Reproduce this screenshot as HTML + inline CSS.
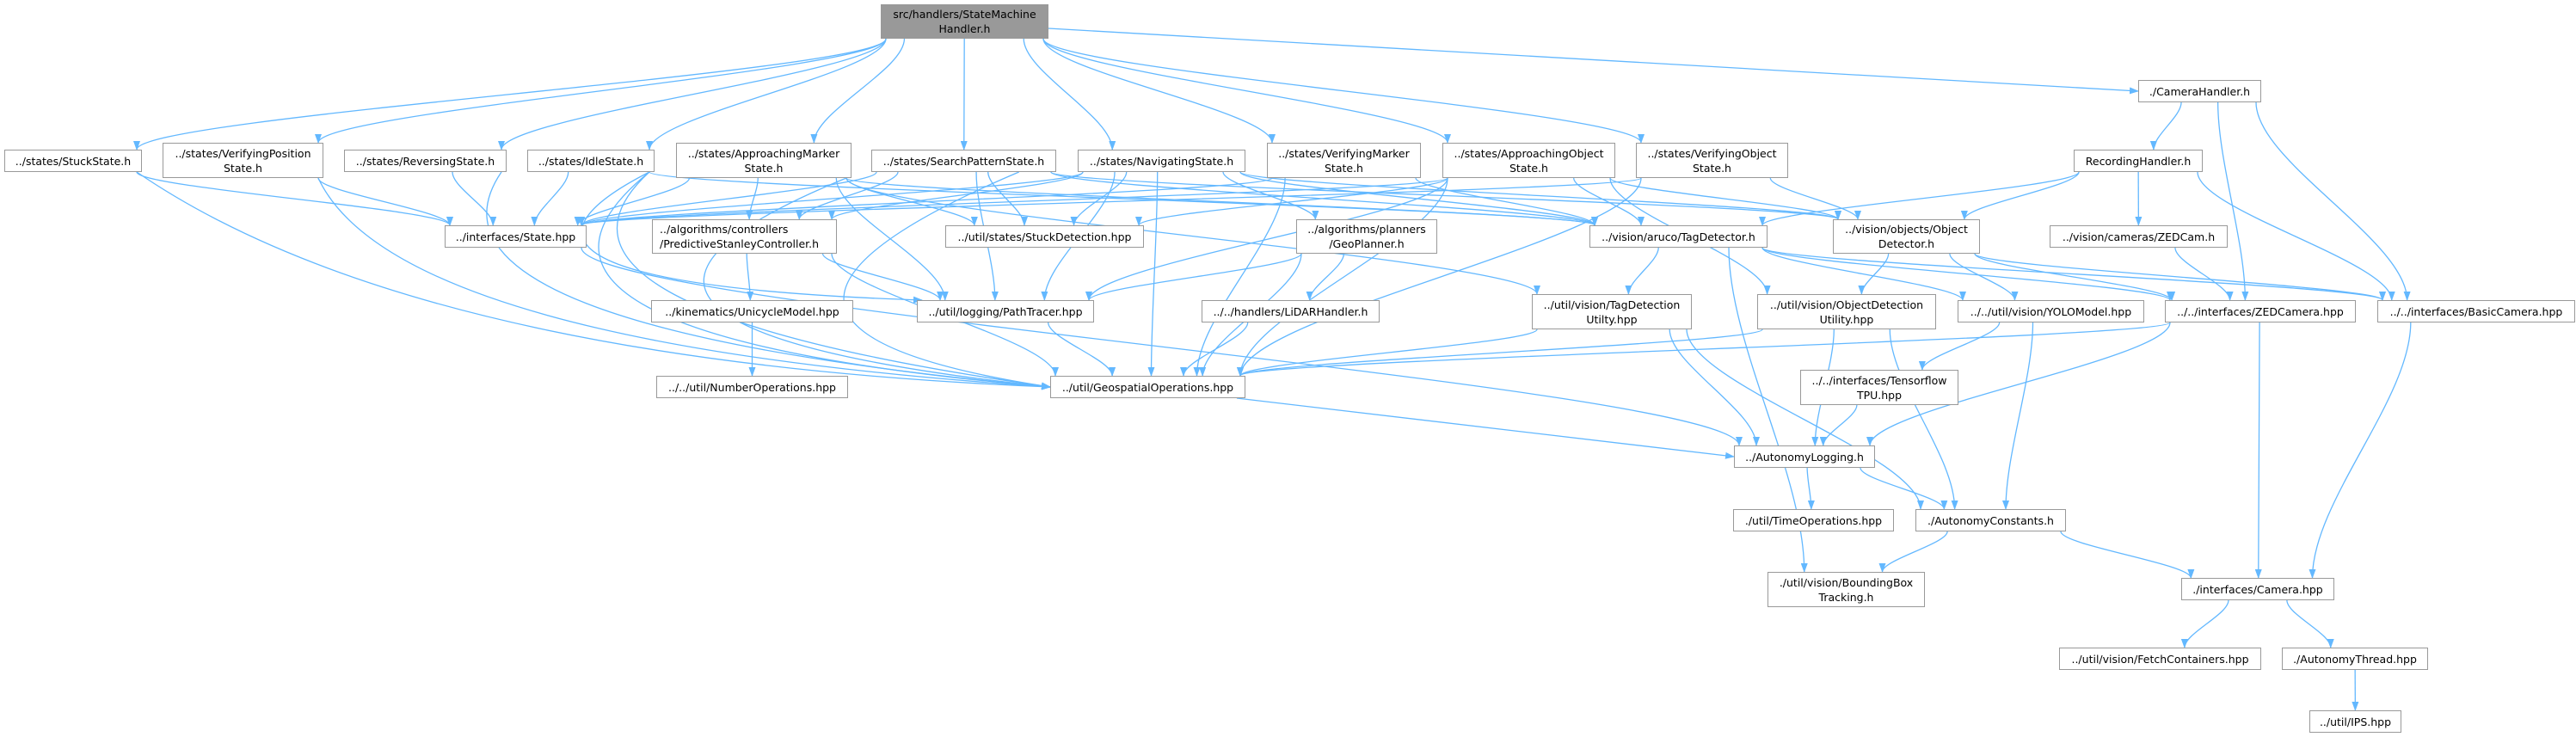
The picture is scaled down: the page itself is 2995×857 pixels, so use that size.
<!DOCTYPE html>
<html><head><meta charset="utf-8"><style>
html,body{margin:0;padding:0;background:#fff;}
body{width:2995px;height:857px;position:relative;overflow:hidden;font-family:"DejaVu Sans","Liberation Sans",sans-serif;}
.n{position:absolute;box-sizing:border-box;border:1.5px solid #999;background:#fff;font-size:12.5px;line-height:17px;color:#000;text-align:center;display:flex;align-items:center;justify-content:center;white-space:nowrap;z-index:2}
.root{background:#999;}
svg{position:absolute;left:0;top:0;z-index:1}
</style></head><body>
<svg id="s" width="2995" height="857"><defs><marker id="a" markerWidth="11" markerHeight="8" refX="10" refY="4" orient="auto" markerUnits="userSpaceOnUse"><path d="M0,0 L11,4 L0,8 z" fill="#63b8ff"/></marker></defs></svg>
<div class="n root" style="left:1024px;top:5px;width:195px;height:40px">src/handlers/StateMachine<br>Handler.h</div>
<div class="n" style="left:5px;top:174px;width:160px;height:26px">../states/StuckState.h</div>
<div class="n" style="left:189px;top:166px;width:187px;height:41px">../states/VerifyingPosition<br>State.h</div>
<div class="n" style="left:400px;top:174px;width:189px;height:26px">../states/ReversingState.h</div>
<div class="n" style="left:613px;top:174px;width:148px;height:26px">../states/IdleState.h</div>
<div class="n" style="left:786px;top:166px;width:204px;height:41px">../states/ApproachingMarker<br>State.h</div>
<div class="n" style="left:1013px;top:174px;width:215px;height:26px">../states/SearchPatternState.h</div>
<div class="n" style="left:1253px;top:174px;width:195px;height:26px">../states/NavigatingState.h</div>
<div class="n" style="left:1473px;top:166px;width:179px;height:41px">../states/VerifyingMarker<br>State.h</div>
<div class="n" style="left:1677px;top:166px;width:201px;height:41px">../states/ApproachingObject<br>State.h</div>
<div class="n" style="left:1902px;top:166px;width:177px;height:41px">../states/VerifyingObject<br>State.h</div>
<div class="n" style="left:2486px;top:93px;width:143px;height:26px">./CameraHandler.h</div>
<div class="n" style="left:2411px;top:174px;width:150px;height:26px">RecordingHandler.h</div>
<div class="n" style="left:517px;top:262px;width:165px;height:26px">../interfaces/State.hpp</div>
<div class="n" style="left:758px;top:255px;width:215px;height:40px;justify-content:flex-start;text-align:left;padding-left:8px">../algorithms/controllers<br>/PredictiveStanleyController.h</div>
<div class="n" style="left:1099px;top:262px;width:231px;height:26px">../util/states/StuckDetection.hpp</div>
<div class="n" style="left:1507px;top:255px;width:164px;height:40px">../algorithms/planners<br>/GeoPlanner.h</div>
<div class="n" style="left:1848px;top:262px;width:207px;height:26px">../vision/aruco/TagDetector.h</div>
<div class="n" style="left:2131px;top:255px;width:171px;height:40px">../vision/objects/Object<br>Detector.h</div>
<div class="n" style="left:2383px;top:262px;width:207px;height:26px">../vision/cameras/ZEDCam.h</div>
<div class="n" style="left:757px;top:349px;width:235px;height:26px">../kinematics/UnicycleModel.hpp</div>
<div class="n" style="left:1066px;top:349px;width:206px;height:26px">../util/logging/PathTracer.hpp</div>
<div class="n" style="left:1397px;top:349px;width:207px;height:26px">../../handlers/LiDARHandler.h</div>
<div class="n" style="left:1781px;top:342px;width:186px;height:41px">../util/vision/TagDetection<br>Utilty.hpp</div>
<div class="n" style="left:2043px;top:342px;width:208px;height:41px">../util/vision/ObjectDetection<br>Utility.hpp</div>
<div class="n" style="left:2276px;top:349px;width:217px;height:26px">../../util/vision/YOLOModel.hpp</div>
<div class="n" style="left:2517px;top:349px;width:222px;height:26px">../../interfaces/ZEDCamera.hpp</div>
<div class="n" style="left:2764px;top:349px;width:230px;height:26px">../../interfaces/BasicCamera.hpp</div>
<div class="n" style="left:763px;top:437px;width:223px;height:26px">../../util/NumberOperations.hpp</div>
<div class="n" style="left:1221px;top:437px;width:227px;height:26px">../util/GeospatialOperations.hpp</div>
<div class="n" style="left:2093px;top:430px;width:184px;height:41px">../../interfaces/Tensorflow<br>TPU.hpp</div>
<div class="n" style="left:2016px;top:518px;width:164px;height:26px">../AutonomyLogging.h</div>
<div class="n" style="left:2015px;top:592px;width:187px;height:26px">./util/TimeOperations.hpp</div>
<div class="n" style="left:2227px;top:592px;width:175px;height:26px">./AutonomyConstants.h</div>
<div class="n" style="left:2055px;top:665px;width:183px;height:41px">./util/vision/BoundingBox<br>Tracking.h</div>
<div class="n" style="left:2536px;top:672px;width:178px;height:26px">./interfaces/Camera.hpp</div>
<div class="n" style="left:2394px;top:753px;width:235px;height:26px">../util/vision/FetchContainers.hpp</div>
<div class="n" style="left:2653px;top:753px;width:170px;height:26px">./AutonomyThread.hpp</div>
<div class="n" style="left:2685px;top:826px;width:107px;height:26px">../util/IPS.hpp</div>
<script>
var N={SMH:[1024,1219,5,45],Stuck:[5,165,174,200],VP:[189,376,166,207],Rev:[400,589,174,200],Idle:[613,761,174,200],AM:[786,990,166,207],SP:[1013,1228,174,200],Nav:[1253,1448,174,200],VM:[1473,1652,166,207],AO:[1677,1878,166,207],VO:[1902,2079,166,207],CH:[2486,2629,93,119],RH:[2411,2561,174,200],State:[517,682,262,288],Stan:[758,973,255,295],SD:[1099,1330,262,288],GP:[1507,1671,255,295],TD:[1848,2055,262,288],OD:[2131,2302,255,295],ZC:[2383,2590,262,288],Uni:[757,992,349,375],PT:[1066,1272,349,375],Li:[1397,1604,349,375],TDU:[1781,1967,342,383],ODU:[2043,2251,342,383],YOLO:[2276,2493,349,375],ZED:[2517,2739,349,375],BC:[2764,2994,349,375],Num:[763,986,437,463],Geo:[1221,1448,437,463],TPU:[2093,2277,430,471],Log:[2016,2180,518,544],Time:[2015,2202,592,618],Con:[2227,2402,592,618],BB:[2055,2238,665,706],Cam:[2536,2714,672,698],Fet:[2394,2629,753,779],Thr:[2653,2823,753,779],IPS:[2685,2792,826,852]};
var E=[
['SMH','Stuck'],['SMH','VP'],['SMH','Rev'],['SMH','Idle'],['SMH','AM'],['SMH','SP'],['SMH','Nav'],['SMH','VM'],['SMH','AO'],['SMH','VO'],['SMH','CH',1],
['Stuck','State'],['Stuck','Geo',0,[[480,420]]],['VP','State'],['VP','Geo',0,[[460,400]]],['Rev','State'],['Rev','Geo',0,[[460,380]]],
['Idle','State'],['Idle','Geo',0,[[520,390]]],['Idle','PT',0,[[500,330]]],['Idle','TD'],['Idle','Geo',0,[[580,360]]],
['AM','State'],['AM','Stan'],['AM','SD'],['AM','TD'],['AM','Geo',0,[[560,380]]],['AM','TDU'],['AM','PT'],
['SP','State'],['SP','SD'],['SP','PT'],['SP','Geo',0,[[760,380]]],['SP','TD'],['SP','OD'],['SP','Stan'],
['Nav','State'],['Nav','SD'],['Nav','PT'],['Nav','Geo'],['Nav','GP'],['Nav','TD'],['Nav','OD'],['Nav','Stan'],
['VM','State'],['VM','TD'],['VM','Geo'],
['AO','State'],['AO','SD'],['AO','OD'],['AO','TD'],['AO','PT'],['AO','Geo'],['AO','ODU'],
['VO','State'],['VO','OD'],['VO','Geo'],
['CH','RH'],['CH','ZED'],['CH','BC'],['RH','TD'],['RH','OD'],['RH','ZC'],['RH','BC'],['ZC','ZED'],
['TD','TDU'],['TD','YOLO'],['TD','ZED'],['TD','BC'],['TD','BB'],['OD','ODU'],['OD','YOLO'],['OD','ZED'],['OD','BC'],
['Stan','Uni'],['Stan','PT'],['Stan','Geo'],['Uni','Num'],['GP','Li'],['GP','PT'],['GP','Geo'],['Li','Geo'],['PT','Geo'],
['TDU','Geo'],['TDU','Log'],['TDU','Con'],['ODU','Geo'],['ODU','Log'],['ODU','Con'],['YOLO','TPU'],['YOLO','Con'],
['ZED','Geo'],['ZED','Log'],['ZED','Cam'],['BC','Cam'],['TPU','Log'],['State','Log'],['Geo','Log',1],
['Log','Time'],['Log','Con'],['Con','BB'],['Con','Cam'],['Cam','Fet'],['Cam','Thr'],['Thr','IPS']];
var s=document.getElementById('s'),out='';
function cl(v,a,b){return Math.max(a,Math.min(b,v));}
E.forEach(function(e){var a=N[e[0]],b=N[e[1]];var acx=(a[0]+a[1])/2,bcx=(b[0]+b[1])/2;
var x1,y1,x2,y2,d;
if(e[2]==1){x1=a[1];y1=(a[2]+a[3])/2+8;x2=b[0];y2=(b[2]+b[3])/2;if(e[0]=='Geo'){x1=a[1]-10;y1=a[3];}
 d='M'+x1+','+y1+' L'+x2+','+y2;}
else{var hw=(a[1]-a[0])/2-6,hb=(b[1]-b[0])/2-6;
 x1=acx+cl((bcx-acx)*0.3,-hw,hw);y1=a[3];
 x2=bcx+cl((acx-bcx)*0.25,-hb,hb);y2=b[2];
 if(e[1]=='Geo'&&(b[2]-a[3])>150&&acx<1221){x2=b[0];y2=(b[2]+b[3])/2;}
 if(e[3]){var p=e[3][0];d='M'+x1+','+y1+' Q'+p[0]+','+p[1]+' '+x2+','+y2;}
 else{var dy=y2-y1;d='M'+x1+','+y1+' C'+x1+','+(y1+dy*0.3)+' '+x2+','+(y2-dy*0.3)+' '+x2+','+y2;}}
out+='<path d="'+d+'" fill="none" stroke="#63b8ff" stroke-width="1.3" marker-end="url(#a)"/>';});
s.insertAdjacentHTML('beforeend',out);
</script>
</body></html>
